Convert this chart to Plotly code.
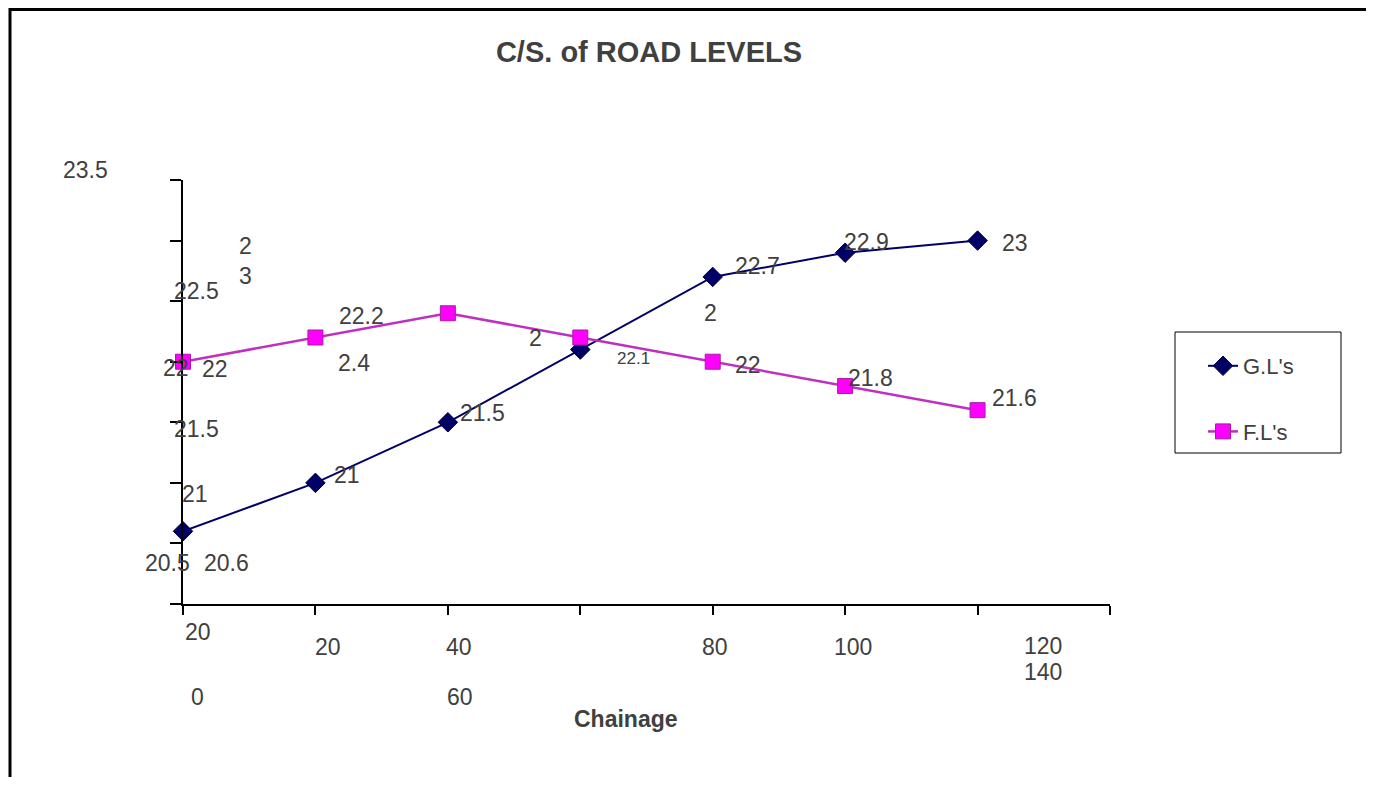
import plotly.graph_objects as go

# ---------------- data ----------------
chainage = [0, 20, 40, 60, 80, 100, 120]
gl_levels = [20.6, 21.0, 21.5, 22.1, 22.7, 22.9, 23.0]
fl_levels = [22.0, 22.2, 22.4, 22.2, 22.0, 21.8, 21.6]
series_names = ["G.L's", "F.L's"]
title_text = "C/S. of ROAD LEVELS"
x_title = "Chainage"
y_ticks = [20, 20.5, 21, 21.5, 22, 22.5, 23, 23.5]
x_ticks = [0, 20, 40, 60, 80, 100, 120, 140]

# (text, anchor x, anchor y, xshift, yshift) - garbled labels as printed
y_tick_labels = [
    ("23.5", 0, 23.5, -98, 10),
    ("2", 0, 23.0, 62, -5),
    ("3", 0, 23.0, 62, -35),
    ("22.5", 0, 22.5, 13, 10),
    ("22", 0, 22.0, -7, -6),
    ("21.5", 0, 21.5, 13, -7),
    ("21", 0, 21.0, 12, -11),
    ("20.5", 0, 20.5, -16, -20),
]
x_tick_labels = [
    ("20", 0, 20, 15, -28),
    ("0", 0, 20, 14, -93),
    ("20", 20, 20, 13, -43),
    ("40", 40, 20, 11, -43),
    ("60", 60, 20, -120, -93),
    ("80", 80, 20, 2, -43),
    ("100", 100, 20, 8, -43),
    ("120", 140, 20, -67, -42),
    ("140", 140, 20, -67, -68),
]
gl_label_texts = ["20.6", "21", "21.5", "22.1", "22.7", "22.9", "23"]
gl_label_shift = [(43, -32), (32, 8), (35, 9), (53, -9),
                  (45, 11), (21, 11), (37, -2)]
fl_label_texts = ["22", "22.2", "", "2", "22", "21.8", "21.6"]
fl_label_shift = [(32, -7), (46, 21), (0, 0), (-45, -1),
                  (35, -3), (25, 8), (37, 12)]
extra_labels = [
    ("2.4", 20, 22.2, 39, -26),
    ("2", 80, 22.7, -2, -36),
]

# ---------------- geometry ----------------
OFF = 8  # page body margin
W, H = 1374, 785
L, R, T, B = 183, 1110, 180, 604
PW, PH = R - L, B - T


def px(xp):
    return (xp - L) / PW


def py(yp):
    return (B - yp) / PH


FONT = "Liberation Sans, Arial, sans-serif"
TXT = "#404040"
LAB = 23

fig = go.Figure()
fig.add_trace(go.Scatter(
    x=chainage, y=gl_levels, name=series_names[0], mode="lines+markers",
    line=dict(color="#000066", width=2),
    marker=dict(symbol="diamond", size=15, color="#000066",
                line=dict(color="#000044", width=1)),
    legendgroup="a", cliponaxis=False))
fig.add_trace(go.Scatter(
    x=chainage, y=fl_levels, name=series_names[1], mode="lines+markers",
    line=dict(color="#c030c0", width=2.5),
    marker=dict(symbol="square", size=15, color="#ff00ff",
                line=dict(color="#a020a0", width=1)),
    legendgroup="b", cliponaxis=False))

annotations = []


def add_lab(text, x, y, xs, ys, size=LAB):
    if not text:
        return
    annotations.append(dict(
        text=text, x=x, y=y, xref="x", yref="y", xshift=xs, yshift=ys,
        showarrow=False, xanchor="center", yanchor="middle",
        font=dict(family=FONT, size=size, color=TXT)))


for t in y_tick_labels + x_tick_labels + extra_labels:
    add_lab(*t)
for xv, yv, t, s in zip(chainage, gl_levels, gl_label_texts, gl_label_shift):
    add_lab(t, xv, yv, *s, size=17 if t == "22.1" else LAB)
for xv, yv, t, s in zip(chainage, fl_levels, fl_label_texts, fl_label_shift):
    add_lab(t, xv, yv, *s)

annotations.append(dict(
    text=f"<b>{x_title}</b>", x=px(626), y=py(719), xref="paper", yref="paper",
    showarrow=False, xanchor="center", yanchor="middle",
    font=dict(family=FONT, size=23, color=TXT)))

shapes = [
    # outer frame (top and left edges)
    dict(type="line", xref="paper", yref="paper", x0=px(10), x1=px(W + 5),
         y0=py(9.5), y1=py(9.5), line=dict(color="black", width=3)),
    dict(type="line", xref="paper", yref="paper", x0=px(10), x1=px(10),
         y0=py(8), y1=py(H + 5), line=dict(color="black", width=3)),
    # legend box
    dict(type="rect", xref="paper", yref="paper", x0=px(1175), x1=px(1341),
         y0=py(332), y1=py(453), line=dict(color="black", width=1)),
]

fig.update_layout(
    width=W - 2 * OFF, height=H - 2 * OFF,
    margin=dict(l=L - OFF, r=W - R - OFF, t=T - OFF, b=H - B - OFF),
    paper_bgcolor="white", plot_bgcolor="white",
    title=dict(text=f"<b>{title_text}</b>", x=(649 - OFF) / (W - 2 * OFF),
               y=1 - (52 - OFF) / (H - 2 * OFF),
               xanchor="center", yanchor="middle",
               font=dict(family=FONT, size=29, color=TXT)),
    xaxis=dict(range=[0, 140], tickvals=x_ticks, showticklabels=False,
               showgrid=False, zeroline=False, showline=True,
               linecolor="black", linewidth=1.5, ticks="outside",
               ticklen=9, tickcolor="black", tickwidth=1.5),
    yaxis=dict(range=[20, 23.5], tickvals=y_ticks, showticklabels=False,
               showgrid=False, zeroline=False, showline=True,
               linecolor="black", linewidth=1.5, ticks="outside",
               ticklen=11, tickcolor="black", tickwidth=1.5),
    showlegend=True,
    legend=dict(x=px(1203), y=py(345), xanchor="left", yanchor="top",
                bgcolor="rgba(0,0,0,0)", borderwidth=0,
                traceorder="grouped", tracegroupgap=34,
                font=dict(family=FONT, size=22, color=TXT)),
    annotations=annotations,
    shapes=shapes,
)

fig.write_html("out.html")
